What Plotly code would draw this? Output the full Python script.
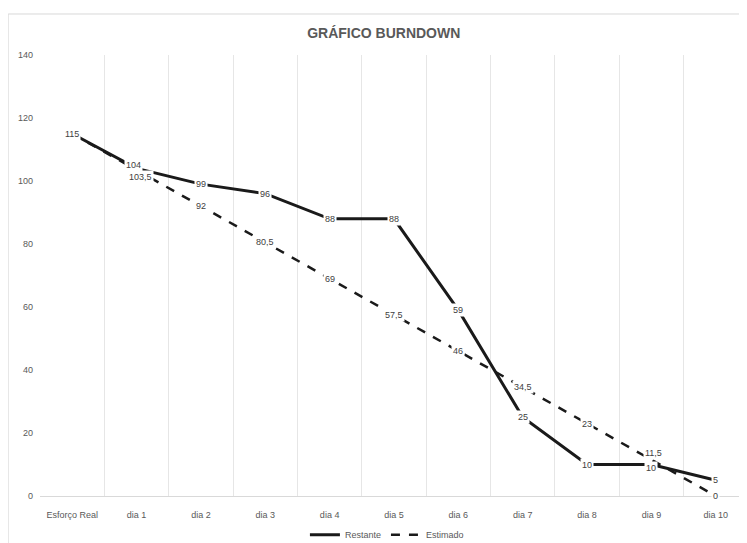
import plotly.graph_objects as go

categorias = ["Esforço Real", "dia 1", "dia 2", "dia 3", "dia 4", "dia 5",
              "dia 6", "dia 7", "dia 8", "dia 9", "dia 10"]
restante = [115, 104, 99, 96, 88, 88, 59, 25, 10, 10, 5]
estimado = [115, 103.5, 92, 80.5, 69, 57.5, 46, 34.5, 23, 11.5, 0]
y_ticks = [0, 20, 40, 60, 80, 100, 120, 140]

# small label nudges (pixels) where the two series' labels collide
nudge_est = {"dia 1": (4, -7), "dia 9": (2, 7)}
nudge_real = {"dia 1": (-3, 3), "dia 9": (0, -3)}


def fmt(v):
    return ("%g" % v).replace(".", ",")


fig = go.Figure()
fig.add_trace(go.Scatter(x=categorias, y=restante, name="Restante", mode="lines",
                         line=dict(color="#1a1a1a", width=3)))
fig.add_trace(go.Scatter(x=categorias, y=estimado, name="Estimado", mode="lines",
                         line=dict(color="#1a1a1a", width=2.5, dash="dash")))

lab_font = dict(size=9, color="#404040", family="Liberation Sans")
annots = []
for c, v in zip(categorias[1:], estimado[1:]):
    dx, dy = nudge_est.get(c, (0, 0))
    annots.append(dict(x=c, y=v, xref="x", yref="y", text=fmt(v), showarrow=False,
                       bgcolor="white", font=lab_font, borderpad=1, xshift=dx, yshift=dy))
for c, v in zip(categorias, restante):
    dx, dy = nudge_real.get(c, (0, 0))
    annots.append(dict(x=c, y=v, xref="x", yref="y", text=fmt(v), showarrow=False,
                       bgcolor="white", font=lab_font, borderpad=1, xshift=dx, yshift=dy))

fig.update_layout(
    width=747, height=543,
    margin=dict(l=32, r=7, t=47, b=55, autoexpand=False),
    paper_bgcolor="white", plot_bgcolor="white",
    title=dict(text="<b>GRÁFICO BURNDOWN</b>", x=0.503, xanchor="center", y=0.954, yanchor="middle",
               font=dict(size=14, color="#595959", family="Liberation Sans")),
    font=dict(family="Liberation Sans", color="#595959", size=9),
    showlegend=True,
    legend=dict(orientation="h", x=0.49, xanchor="center", y=-0.088, yanchor="middle",
                font=dict(size=9, color="#595959")),
    annotations=annots,
    shapes=[dict(type="rect", xref="paper", yref="paper", x0=-0.045, x1=1.0, y0=-0.2, y1=1.093,
                 line=dict(color="#d9d9d9", width=1))],
)
fig.update_xaxes(type="category", range=[-0.5, 10.5], tickson="boundaries", showgrid=True,
                 gridcolor="#e6e6e6", gridwidth=1, showline=True, linecolor="#d9d9d9",
                 ticks="", ticklabelstandoff=10, tickfont=dict(size=9, color="#595959"))
fig.update_yaxes(range=[0, 140], tickvals=y_ticks, showgrid=False, zeroline=False,
                 showline=False, ticks="", ticklabelstandoff=6,
                 tickfont=dict(size=9, color="#595959"))

fig.write_html("out.html")
